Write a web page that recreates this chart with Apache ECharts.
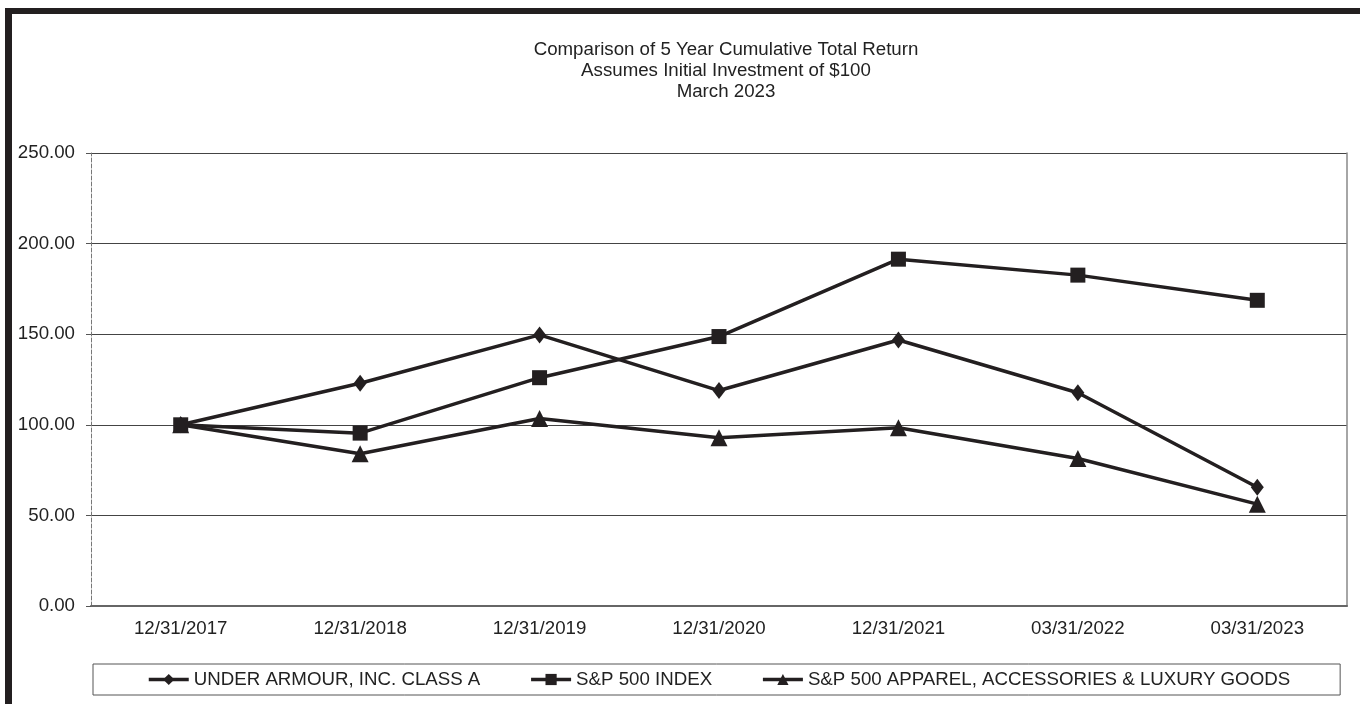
<!DOCTYPE html>
<html>
<head>
<meta charset="utf-8">
<script src="https://cdn.jsdelivr.net/npm/echarts@6/dist/echarts.min.js"></script>
<style>
html,body{margin:0;padding:0;background:#fff;}
#chart{width:1360px;height:704px;}
</style>
</head>
<body>
<div id="chart"></div>
<script>
const categories = ['12/31/2017','12/31/2018','12/31/2019','12/31/2020','12/31/2021','03/31/2022','03/31/2023'];
const underArmour = [100, 122.9, 149.6, 118.9, 146.8, 117.7, 65.5];
const sp500 = [100, 95.4, 126.0, 148.7, 191.4, 182.6, 168.7];
const apparel = [100, 84.0, 103.5, 92.8, 98.4, 81.4, 56.2];
const titleLines = ['Comparison of 5 Year Cumulative Total Return', 'Assumes Initial Investment of $100', 'March 2023'];
const seriesNames = ['UNDER ARMOUR, INC. CLASS A', 'S&P 500 INDEX', 'S&P 500 APPAREL, ACCESSORIES & LUXURY GOODS'];

const FONT = '"Liberation Sans", Arial, sans-serif';
const FS = 18.7;
const INK = '#231f20';
const chart = echarts.init(document.getElementById('chart'), null, {renderer: 'canvas'});

function lineSeries(name, data, symbol, size) {
  return {
    name: name, type: 'line', data: data,
    symbol: symbol, symbolSize: size,
    itemStyle: {color: INK},
    lineStyle: {color: INK, width: 3.5},
    animation: false
  };
}

chart.setOption({
  backgroundColor: '#fff',
  animation: false,
  graphic: [
    {type: 'rect', shape: {x: 5, y: 8, width: 1360, height: 6}, style: {fill: INK}},
    {type: 'rect', shape: {x: 5, y: 8, width: 7, height: 700}, style: {fill: INK}},
    {type: 'text', x: 726, y: 39, style: {text: titleLines.join('\n'), font: FS + 'px ' + FONT, fill: '#222', align: 'center', lineHeight: 21}}
  ],
  grid: {left: 91, right: 13, top: 153, bottom: 98, containLabel: false},
  legend: {
    left: 93, bottom: 9,
    data: seriesNames,
    itemWidth: 40, itemHeight: 14, itemGap: 49,
    padding: [6, 50, 6, 54],
    borderColor: '#555', borderWidth: 1,
    lineStyle: {width: 3.5, color: INK},
    textStyle: {fontFamily: FONT, fontSize: FS, color: '#222'}
  },
  xAxis: {
    type: 'category', data: categories, boundaryGap: true,
    axisLine: {lineStyle: {color: '#666', width: 2}},
    axisTick: {alignWithLabel: true, inside: true, length: 5, lineStyle: {color: '#666'}},
    axisLabel: {margin: 13, fontFamily: FONT, fontSize: FS, color: '#222'},
    splitLine: {show: false}
  },
  yAxis: [{
    type: 'value', min: 0, max: 250, interval: 50,
    axisLine: {show: true, lineStyle: {color: '#777', type: [4, 2], width: 1}},
    axisTick: {show: true, length: 5, lineStyle: {color: '#555'}},
    axisLabel: {margin: 16, fontFamily: FONT, fontSize: FS, color: '#222', formatter: v => v.toFixed(2)},
    splitLine: {show: true, lineStyle: {color: '#444', width: 1}}
  }, {
    type: 'value', min: 0, max: 250, interval: 50, position: 'right',
    axisLine: {show: true, lineStyle: {color: '#888', width: 1.5}},
    axisTick: {show: false}, axisLabel: {show: false}, splitLine: {show: false}
  }],
  series: [
    lineSeries(seriesNames[0], underArmour, 'diamond', [13, 17]),
    lineSeries(seriesNames[1], sp500, 'rect', 15),
    lineSeries(seriesNames[2], apparel, 'triangle', 17)
  ]
});
</script>
</body>
</html>
